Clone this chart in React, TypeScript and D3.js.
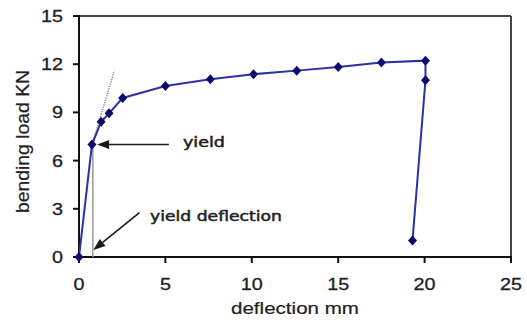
import React from "react";
import * as d3 from "d3";

const deflection = [0, 0.75, 1.28, 1.74, 2.53, 5.0, 7.6, 10.1, 12.6, 15.0, 17.5, 20.05, 20.05, 19.3];
const load = [0, 7.0, 8.42, 8.95, 9.9, 10.64, 11.06, 11.38, 11.6, 11.82, 12.1, 12.22, 11.0, 1.02];
const xTicks = [0, 5, 10, 15, 20, 25];
const yTicks = [0, 3, 6, 9, 12, 15];
const tangent = [[0.75, 7.0], [2.05, 11.6]];
const yieldDeflectionX = 0.8;
const yieldLoad = 7;

const W = 527, H = 320;
const x = d3.scaleLinear().domain([0, 25]).range([79, 511]);
const y = d3.scaleLinear().domain([0, 15]).range([257, 16]);

function Arrow({ x1, y1, x2, y2 }: { x1: number; y1: number; x2: number; y2: number }) {
  const ang = Math.atan2(y2 - y1, x2 - x1);
  const len = 12, hw = 4.5;
  const bx = x2 - len * Math.cos(ang), by = y2 - len * Math.sin(ang);
  const px = -Math.sin(ang) * hw, py = Math.cos(ang) * hw;
  return (
    <g>
      <line x1={x1} y1={y1} x2={bx} y2={by} stroke="#1a1a1a" strokeWidth={1.6} />
      <path d={`M${x2},${y2}L${bx + px},${by + py}L${bx - px},${by - py}Z`} fill="#1a1a1a" />
    </g>
  );
}

export default function App() {
  const pts = deflection.map((d, i) => [d, load[i]] as [number, number]);
  const line = d3.line<[number, number]>().x(d => x(d[0])).y(d => y(d[1]));
  const tickFont = "'Liberation Sans', Arial, sans-serif";
  const annFont = "'DejaVu Sans', Verdana, sans-serif";
  return (
    <svg width={W} height={H} style={{ position: "fixed", left: 0, top: 0, background: "#fff" }}>
      <rect width={W} height={H} fill="#fff" />
      {/* frame */}
      <line x1={x(0)} y1={y(15)} x2={x(25)} y2={y(15)} stroke="#444" strokeWidth={2} />
      <line x1={x(25)} y1={y(15)} x2={x(25)} y2={y(0)} stroke="#444" strokeWidth={2} />
      <line x1={x(0)} y1={y(15) - 1} x2={x(0)} y2={y(0) + 1} stroke="#111" strokeWidth={2} />
      <line x1={x(0) - 1} y1={y(0)} x2={x(25) + 1} y2={y(0)} stroke="#111" strokeWidth={2} />
      {yTicks.map(t => (
        <g key={"y" + t}>
          <line x1={x(0) - 6} x2={x(0)} y1={y(t)} y2={y(t)} stroke="#111" strokeWidth={2} />
          <text x={63} y={y(t) + 6} textAnchor="end" fontFamily={tickFont} fontSize={17} fill="#222"
            stroke="#222" strokeWidth={0.3}
            textLength={String(t).length * 11} lengthAdjust="spacingAndGlyphs">{t}</text>
        </g>
      ))}
      {xTicks.map(t => (
        <g key={"x" + t}>
          <line x1={x(t)} x2={x(t)} y1={y(0)} y2={y(0) + 6} stroke="#111" strokeWidth={2} />
          <text x={x(t)} y={290} textAnchor="middle" fontFamily={tickFont} fontSize={17} fill="#222"
            stroke="#222" strokeWidth={0.3}
            textLength={String(t).length * 11} lengthAdjust="spacingAndGlyphs">{t}</text>
        </g>
      ))}
      <text x={295} y={314} textAnchor="middle" fontFamily={tickFont} fontSize={17} fill="#222"
        stroke="#222" strokeWidth={0.2}
        textLength={128} lengthAdjust="spacingAndGlyphs">deflection mm</text>
      <text transform={`translate(29,141.5) rotate(-90)`} textAnchor="middle" fontFamily={tickFont} fontSize={18} fill="#222"
        stroke="#222" strokeWidth={0.2}
        textLength={143} lengthAdjust="spacingAndGlyphs">bending load KN</text>

      {/* helper lines */}
      <line x1={x(yieldDeflectionX)} x2={x(yieldDeflectionX)} y1={y(0)} y2={y(yieldLoad)} stroke="#9a9a9a" strokeWidth={1.5} />
      <line x1={x(tangent[0][0])} y1={y(tangent[0][1])} x2={x(tangent[1][0])} y2={y(tangent[1][1])}
        stroke="#8a8a8a" strokeWidth={1.5} strokeDasharray="1.2,1.2" />

      {/* series */}
      <path d={line(pts) || ""} fill="none" stroke="#2f2fa6" strokeWidth={2} />
      {pts.map((p, i) => (
        <path key={i} d={`M${x(p[0])},${y(p[1]) - 5}L${x(p[0]) + 4.5},${y(p[1])}L${x(p[0])},${y(p[1]) + 5}L${x(p[0]) - 4.5},${y(p[1])}Z`}
          fill="#0b0b6e" />
      ))}

      {/* annotations */}
      <Arrow x1={x(5.2)} y1={y(yieldLoad)} x2={x(1.05)} y2={y(yieldLoad)} />
      <text x={183} y={147} fontFamily={annFont} fontSize={14} fill="#222" stroke="#222" strokeWidth={0.5}
        textLength={42} lengthAdjust="spacingAndGlyphs">yield</text>
      <Arrow x1={x(3.5)} y1={y(2.76)} x2={x(0.83)} y2={y(0.44)} />
      <text x={150} y={221} fontFamily={annFont} fontSize={14} fill="#222" stroke="#222" strokeWidth={0.5}
        textLength={132} lengthAdjust="spacingAndGlyphs">yield deflection</text>
    </svg>
  );
}
